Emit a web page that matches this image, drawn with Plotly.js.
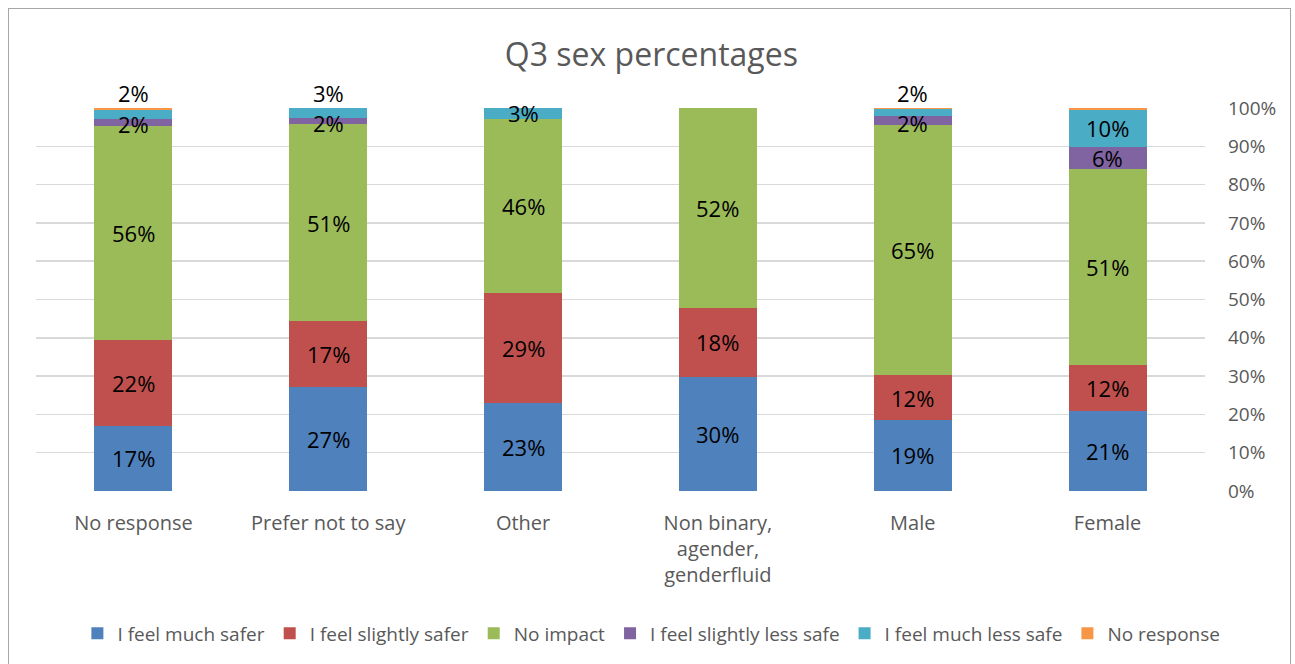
<!DOCTYPE html>
<html>
<head>
<meta charset="utf-8">
<script src="https://cdn.plot.ly/plotly-3.0.1.min.js"></script>
<style>
  html, body { margin: 0; padding: 0; background: #fff; }
  #wrap { position: relative; width: 1295px; height: 664px; }
  #chart { width: 1295px; height: 664px; }
  #frame { position: absolute; left: 8px; top: 8px; width: 1281px; height: 660px;
           border: 1px solid #a6a6a6; pointer-events: none; }
</style>
</head>
<body>
<div id="wrap"><div id="chart"></div><div id="frame"></div></div>
<script>
const categories = ["No response", "Prefer not to say", "Other", "Non binary,<br>agender,<br>genderfluid", "Male", "Female"];
const seriesNames = ["I feel much safer", "I feel slightly safer", "No impact", "I feel slightly less safe", "I feel much less safe", "No response"];
const muchSafer     = [17.0, 27.2, 23.0, 29.8, 18.6, 20.9];
const slightlySafer = [22.4, 17.2, 28.6, 18.0, 11.6, 12.0];
const noImpact      = [56.0, 51.4, 45.6, 52.2, 65.3, 51.2];
const slightlyLess  = [1.8, 1.6, 0, 0, 2.3, 5.6];
const muchLess      = [2.3, 2.6, 2.8, 0, 2.0, 9.9];
const noResponse    = [0.5, 0, 0, 0, 0.2, 0.4];
const colors = ["#4f81bd", "#c0504d", "#9bbb59", "#8064a2", "#4bacc6", "#f79646"];
const yTicks = [0, 10, 20, 30, 40, 50, 60, 70, 80, 90, 100];

const series = [muchSafer, slightlySafer, noImpact, slightlyLess, muchLess, noResponse];
const showLabel = [true, true, true, true, true, false];
const FONT = "Open Sans, Liberation Sans, sans-serif";

const traces = series.map((vals, i) => ({
  type: "bar",
  name: seriesNames[i],
  x: categories,
  y: vals,
  marker: { color: colors[i], line: { width: 0 } },
  hoverinfo: "skip"
}));

// data labels as annotations, centred on each segment
const annotations = [];
categories.forEach((cat, c) => {
  let base = 0;
  const crowdedTop = muchLess[c] > 0 && muchLess[c] < 5 && slightlyLess[c] > 0 && slightlyLess[c] < 5;
  series.forEach((vals, i) => {
    const v = vals[c];
    if (v >= 1 && showLabel[i]) {
      const ann = {
        x: cat, y: base + v / 2, xref: "x", yref: "y",
        text: Math.round(v) + "%", showarrow: false, borderpad: 0,
        font: { family: FONT, size: 22, color: "#000000" }
      };
      // thin top segments: the upper label goes above the bar
      if (crowdedTop && i === 4) { ann.y = 100; ann.yshift = 15; }
      if (crowdedTop && i === 3) { ann.yshift = -2; }
      annotations.push(ann);
    }
    base += v;
  });
});

const layout = {
  width: 1295, height: 664,
  margin: { l: 36, r: 90, t: 108, b: 173 },
  paper_bgcolor: "#ffffff", plot_bgcolor: "#ffffff",
  barmode: "stack",
  bargap: 0.6,
  title: { text: "Q3 sex percentages", x: 0.503, xref: "container", xanchor: "center",
           y: 0.917, yref: "container", yanchor: "middle",
           font: { family: FONT, size: 32, color: "#595959" } },
  xaxis: { type: "category", showgrid: false, zeroline: false, showline: false, ticks: "",
           tickfont: { family: FONT, size: 20, color: "#595959" },
           ticklabelstandoff: 18, fixedrange: true },
  yaxis: { side: "right", range: [0, 100], tickvals: yTicks, ticktext: yTicks.map(t => t + "%"),
           showgrid: true, gridcolor: "#d9d9d9", gridwidth: 1.5, zeroline: false, showline: false,
           ticks: "", ticklabelstandoff: 22,
           tickfont: { family: FONT, size: 19, color: "#595959" },
           fixedrange: true },
  legend: { orientation: "h", x: 0.503, xref: "container", xanchor: "center",
            y: 0.046, yref: "container", yanchor: "middle",
            font: { family: FONT, size: 19, color: "#595959" },
            itemwidth: 30, traceorder: "normal" },
  annotations: annotations,
  showlegend: true
};

Plotly.newPlot("chart", traces, layout, { displayModeBar: false, staticPlot: true });
</script>
</body>
</html>
